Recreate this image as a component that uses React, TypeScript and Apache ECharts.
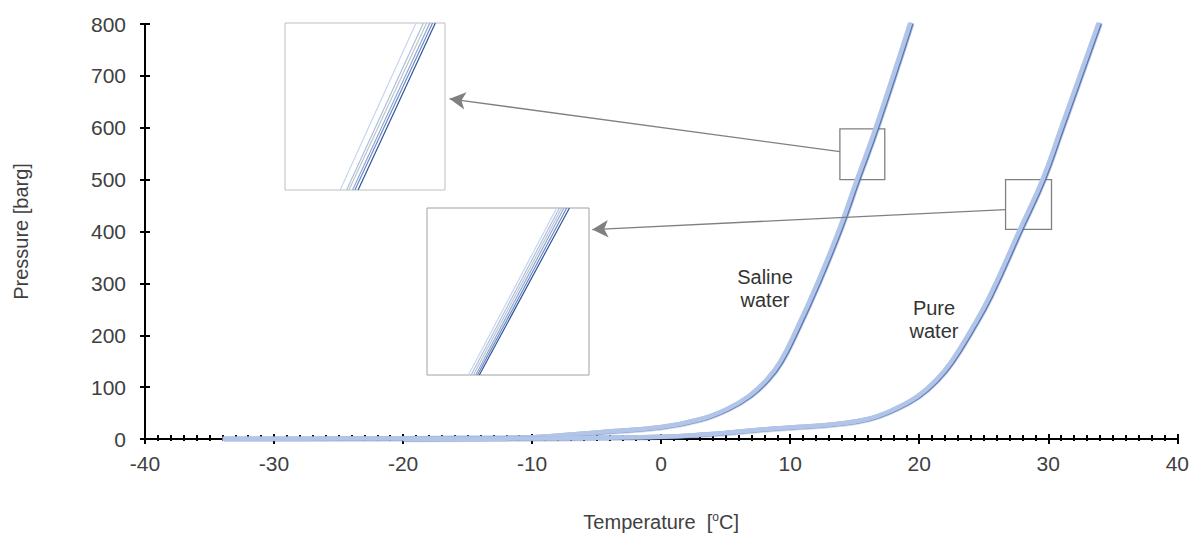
import React, { useEffect, useRef } from 'react';
import * as echarts from 'echarts';

// Hydrate equilibrium curves (temperature °C, pressure barg)
const salineT = [-34, -28, -22, -16, -12, -10, -7.2, -4.8, 0, 3.0, 5.1, 6.8, 8.2, 9.2, 10.5, 12.1, 13.8, 15.2, 16.6, 19.3];
const salineP = [0.3, 0.6, 1, 1.8, 2.5, 3.5, 8, 13, 23, 38, 58, 83, 115, 148, 212, 300, 404, 502, 598, 802];
const pureT = [-20, -10, -5, 0, 2.9, 5.5, 8.1, 10.5, 13.2, 15.9, 18.1, 19.9, 21.35, 22.45, 24.05, 25.45, 27.8, 29.55, 31.0, 33.9];
const pureP = [0.2, 1, 2.5, 4.5, 8, 13, 19, 23, 28, 38, 58, 83, 115, 148, 212, 275, 404, 500, 600, 802];

// Zoom boxes (data ranges)
const box1T = [13.85, 17.33];
const box1P = [500, 598];
const box2T = [26.69, 30.25];
const box2P = [404, 500];

// Inset lines: temperature at bottom / top of the box
const inset1Low = [15.05, 15.19, 15.24, 15.32, 15.37, 15.44];
const inset1High = [16.70, 16.86, 16.93, 17.0, 17.06, 17.12];
const inset2Low = [27.60, 27.66, 27.71, 27.76, 27.80, 27.84];
const inset2High = [29.54, 29.60, 29.65, 29.70, 29.76, 29.82];
const insetColors = ['#c6d5ee', '#a9bfe6', '#c3c3c3', '#8fa8d8', '#6a89c6', '#2f5597'];

// Arrows: from box edge to inset
const arrow1 = [[13.85, 553.8], [-16.4, 655.8]];
const arrow2 = [[26.69, 442.3], [-5.34, 403.8]];

const FONT = '"Liberation Sans", Arial, sans-serif';
const TXT = '#404040';

export default function App() {
  const ref = useRef<HTMLDivElement>(null);
  useEffect(() => {
    const chart = echarts.init(ref.current!, null, { renderer: 'svg' });
    const curveStyle = {
      width: 4.5,
      color: '#b1c5e8',
      shadowColor: '#4a6aad',
      shadowOffsetX: 1.5,
      shadowOffsetY: 0.3,
      shadowBlur: 0,
    };
    const insetSeries = (low: number[], high: number[], p: number[], idx: number) =>
      low.map((l, i) => ({
        type: 'line',
        xAxisIndex: idx,
        yAxisIndex: idx,
        data: [[l, p[0]], [high[i], p[1]]],
        symbol: 'none',
        lineStyle: { width: 1.2, color: insetColors[i] },
        z: 5,
      }));
    const option: any = {
      animation: false,
      backgroundColor: '#fff',
      textStyle: { fontFamily: FONT },
      grid: [
        { left: 145, top: 24, right: 13, bottom: 98 },
        { left: 285, top: 23, width: 160, height: 167, show: true, borderColor: '#bfbfbf', borderWidth: 1, backgroundColor: '#fff', z: 4 },
        { left: 427, top: 208, width: 162, height: 167, show: true, borderColor: '#a0a0a0', borderWidth: 1, backgroundColor: '#fff', z: 4 },
      ],
      xAxis: [
        {
          gridIndex: 0, type: 'value', min: -40, max: 40, interval: 10,
          axisLine: { show: true, onZero: false, lineStyle: { color: '#000', width: 2 } },
          axisTick: { show: true, inside: false, length: 5, lineStyle: { color: '#000', width: 2 } },
          minorTick: { show: true, splitNumber: 10, length: 2, lineStyle: { color: '#000', width: 2 } },
          axisLabel: { margin: 14, fontSize: 21, color: TXT, fontFamily: FONT },
          splitLine: { show: false },
          name: 'Temperature  [{sup|o}C]',
          nameLocation: 'middle',
          nameGap: 72,
          nameTextStyle: {
            fontSize: 20, color: TXT, fontFamily: FONT, lineHeight: 22,
            rich: { sup: { fontSize: 12, color: TXT, fontFamily: FONT, verticalAlign: 'top', lineHeight: 12 } },
          },
        },
        {
          gridIndex: 0, type: 'value', min: -40, max: 40, interval: 10, position: 'bottom',
          axisLine: { show: false, onZero: false },
          axisTick: { show: true, inside: true, length: 5, lineStyle: { color: '#000', width: 2 } },
          minorTick: { show: true, splitNumber: 10, length: 4, lineStyle: { color: '#000', width: 2 } },
          axisLabel: { show: false },
          splitLine: { show: false },
        },
        { gridIndex: 1, type: 'value', min: box1T[0], max: box1T[1], show: false },
        { gridIndex: 2, type: 'value', min: box2T[0], max: box2T[1], show: false },
      ],
      yAxis: [
        {
          gridIndex: 0, type: 'value', min: 0, max: 800, interval: 100,
          axisLine: { show: true, onZero: false, lineStyle: { color: '#000', width: 2 } },
          axisTick: { show: true, inside: false, length: 5, lineStyle: { color: '#000', width: 2 } },
          axisLabel: { margin: 19, fontSize: 21, color: TXT, fontFamily: FONT },
          splitLine: { show: false },
          name: 'Pressure [barg]',
          nameLocation: 'middle',
          nameGap: 114,
          nameRotate: 90,
          nameTextStyle: { fontSize: 20, color: TXT, fontFamily: FONT },
        },
        {
          gridIndex: 0, type: 'value', min: 0, max: 800, interval: 100, position: 'left',
          axisLine: { show: false, onZero: false },
          axisTick: { show: true, inside: true, length: 5, lineStyle: { color: '#000', width: 2 } },
          axisLabel: { show: false },
          splitLine: { show: false },
        },
        { gridIndex: 1, type: 'value', min: box1P[0], max: box1P[1], show: false },
        { gridIndex: 2, type: 'value', min: box2P[0], max: box2P[1], show: false },
      ],
      series: [
        {
          type: 'line', name: 'Saline water', xAxisIndex: 0, yAxisIndex: 0,
          data: salineT.map((t, i) => [t, salineP[i]]),
          symbol: 'none', smooth: 0.45, clip: false,
          lineStyle: curveStyle, z: 3,
          markArea: {
            silent: true,
            itemStyle: { color: 'rgba(0,0,0,0)', borderColor: '#808080', borderWidth: 1.3 },
            data: [
              [{ coord: [box1T[0], box1P[0]] }, { coord: [box1T[1], box1P[1]] }],
              [{ coord: [box2T[0], box2P[0]] }, { coord: [box2T[1], box2P[1]] }],
            ],
          },
          markLine: {
            silent: true,
            symbol: ['none', 'arrow'],
            symbolSize: [13, 16],
            label: { show: false },
            lineStyle: { color: '#808080', width: 1.3, type: 'solid' },
            data: [
              [{ coord: arrow1[0] }, { coord: arrow1[1] }],
              [{ coord: arrow2[0] }, { coord: arrow2[1] }],
            ],
          },
        },
        {
          type: 'line', name: 'Pure water', xAxisIndex: 0, yAxisIndex: 0,
          data: pureT.map((t, i) => [t, pureP[i]]),
          symbol: 'none', smooth: 0.45, clip: false,
          lineStyle: curveStyle, z: 3,
        },
        ...insetSeries(inset1Low, inset1High, box1P, 2),
        ...insetSeries(inset2Low, inset2High, box2P, 3),
      ],
      graphic: [
        {
          type: 'text', x: 765, y: 265, z: 10,
          style: { text: 'Saline\nwater', fill: '#333', font: `20px ${FONT}`, align: 'center', verticalAlign: 'top', lineHeight: 23 },
        },
        {
          type: 'text', x: 934, y: 296, z: 10,
          style: { text: 'Pure\nwater', fill: '#333', font: `20px ${FONT}`, align: 'center', verticalAlign: 'top', lineHeight: 23 },
        },
      ],
    };
    chart.setOption(option);
    return () => chart.dispose();
  }, []);
  return (
    <div
      ref={ref}
      style={{ position: 'fixed', left: 0, top: 0, width: 1192, height: 538, background: '#fff' }}
    />
  );
}
